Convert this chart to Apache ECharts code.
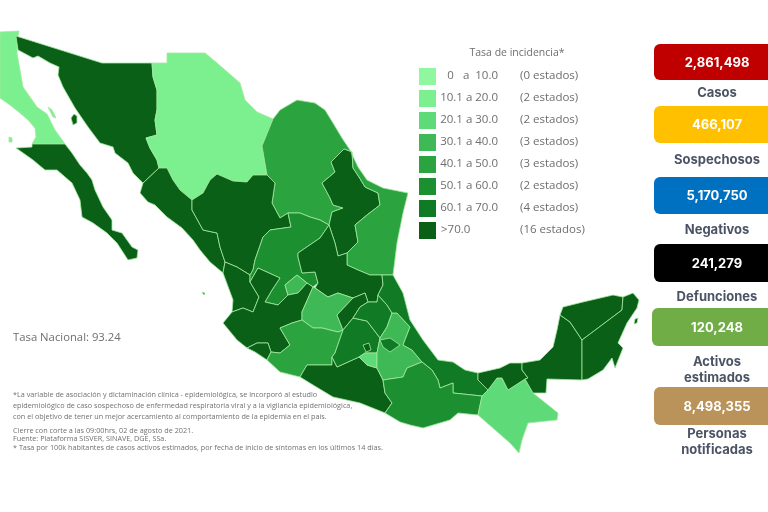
<!DOCTYPE html>
<html>
<head>
<meta charset="utf-8">
<script src="https://cdn.jsdelivr.net/npm/echarts@6/dist/echarts.min.js"></script>
<style>
html, body { margin: 0; padding: 0; background: #fff; }
#main { width: 768px; height: 512px; }
</style>
</head>
<body>
<div id="main"></div>
<script>
// tasa de incidencia por estado (estimada por el color de cada estado)
var stateNames = ['Baja California','Baja California Sur','Sonora','Chihuahua','Coahuila','Nuevo León','Tamaulipas','Sinaloa','Durango','Nayarit','Zacatecas','Aguascalientes','Jalisco','Colima','San Luis Potosí','Guanajuato','Querétaro','Michoacán','Guerrero','México','Ciudad de México','Morelos','Hidalgo','Puebla','Tlaxcala','Veracruz','Oaxaca','Chiapas','Tabasco','Campeche','Yucatán','Quintana Roo'];
var stateRates = [17, 95, 88, 15, 45, 79, 46, 110, 84, 92, 53, 35, 90, 120, 76, 36, 83, 43, 105, 64, 130, 27, 62, 34, 61, 66, 56, 24, 115, 87, 98, 100];

var legendTitle = 'Tasa de incidencia*';
var rangeLabels = ['0   a  10.0', '10.1 a 20.0', '20.1 a 30.0', '30.1 a 40.0', '40.1 a 50.0', '50.1 a 60.0', '60.1 a 70.0', '>70.0'];
var stateCounts = ['(0 estados)', '(2 estados)', '(2 estados)', '(3 estados)', '(3 estados)', '(2 estados)', '(4 estados)', '(16 estados)'];
var binLimits = [0, 10, 20, 30, 40, 50, 60, 70];
var binColors = ['#8ef79f', '#7cf08e', '#5edb78', '#3fb955', '#2ba33f', '#1c8f31', '#117a25', '#0a6017'];

var kpiValues = ['2,861,498', '466,107', '5,170,750', '241,279', '120,248', '8,498,355'];
var kpiLabels = ['Casos', 'Sospechosos', 'Negativos', 'Defunciones', 'Activos\nestimados', 'Personas\nnotificadas'];
var kpiColors = ['#c00000', '#ffc000', '#0070c0', '#000000', '#70ad47', '#b99359'];

var nationalRate = 'Tasa Nacional: 93.24';
var footnotes = [
  '*La variable de asociación y dictaminación clínica - epidemiológica, se incorporó al estudio',
  'epidemiológico de caso sospechoso de enfermedad respiratoria viral y a la vigilancia epidemiológica,',
  'con el objetivo de tener un mejor acercamiento al comportamiento de la epidemia en el país.',
  'Cierre con corte a las 09:00hrs, 02 de agosto de 2021.',
  'Fuente: Plataforma SISVER, SINAVE, DGE, SSa.',
  '* Tasa por 100k habitantes de casos activos estimados, por fecha de inicio de síntomas en los últimos 14 días.'
];

// contornos de los estados, un texto por poligono
var stateShapes = {
  'Baja California': ['0,32 19,31 17,42 17,53 20,70 23,87 30,97 37,107 47,114 50,120 55,130 60,137 65,144 32,144 36,137 35,128 28,120 20,113 10,105 0,98', '48,107 52,110 56,118 53,117', '9,137 12,138 12,142 9,142'],
  'Baja California Sur': ['32,144 65,144 72,153 80,165 87,173 92,180 95,190 103,207 112,220 112,230 122,233 132,247 138,250 137,258 128,260 117,243 107,233 93,223 82,217 80,200 72,183 57,170 45,170 33,160 16,148 32,147'],
  'Sonora': ['16,36 102,63 152,63 153,77 157,90 157,110 155,120 157,135 146,138 150,148 157,160 159,168 143,183 133,173 128,163 115,153 113,147 100,143 88,127 75,108 63,87 58,75 59,67 50,63 38,56 33,58 18,50', '71,118 74,114 77,116 77,123 73,125'],
  'Chihuahua': ['152,63 167,63 167,53 205,53 217,63 240,83 245,100 257,112 273,119 262,146 267,175 253,175 247,182 233,181 217,174 210,180 203,193 192,200 180,190 173,180 167,168 159,168 157,160 150,148 146,138 157,135 155,120 157,110 157,90 153,77'],
  'Coahuila': ['273,119 280,110 297,100 315,103 325,110 333,123 342,138 350,150 352,152 344,149 338,155 331,162 335,172 322,183 330,198 333,205 343,208 332,212 329,225 320,220 310,217 300,213 288,213 280,218 272,203 275,183 267,175 262,146'],
  'Nuevo León': ['344,149 352,152 353,168 359,177 365,187 378,193 380,205 367,215 355,225 358,242 347,253 338,256 335,243 329,225 332,212 343,208 333,205 330,198 322,183 335,172 331,162 338,155'],
  'Tamaulipas': ['350,150 358,167 367,180 383,188 408,193 403,213 397,243 393,275 382,275 370,275 358,270 347,265 347,253 358,242 355,225 367,215 380,205 378,193 365,187 359,177 353,168 352,152'],
  'Sinaloa': ['143,183 159,168 167,168 173,180 180,190 192,200 192,210 203,230 217,233 220,247 225,262 223,273 210,262 200,250 193,240 182,228 167,217 155,205 148,202 140,193'],
  'Durango': ['192,200 203,193 210,180 217,174 233,181 247,182 253,175 267,175 275,183 272,203 280,218 288,213 291,227 270,230 263,237 255,260 253,270 250,275 237,267 225,262 220,247 217,233 203,230 192,210'],
  'Nayarit': ['225,262 237,267 250,275 250,282 259,297 253,312 243,308 232,312 233,300 223,273', '202,292 205,293 204,295'],
  'Zacatecas': ['288,213 300,213 310,217 320,220 329,225 320,238 298,253 298,257 302,273 315,272 318,283 313,287 307,283 297,275 285,285 288,295 278,305 265,302 272,290 280,278 258,268 250,282 250,275 253,270 255,260 263,237 270,230 291,227'],
  'Aguascalientes': ['285,285 297,275 307,283 298,293 288,295'],
  'Jalisco': ['232,312 243,308 253,312 259,297 250,282 258,268 280,278 272,290 265,302 278,305 288,295 298,293 307,283 313,287 302,312 302,320 292,323 280,328 290,345 280,353 271,352 268,343 257,343 247,348 237,340 223,323'],
  'Colima': ['247,348 257,343 268,343 271,352 267,360 255,352'],
  'San Luis Potosí': ['329,225 335,243 338,256 347,253 347,265 358,270 370,275 382,275 383,285 378,295 377,302 368,302 365,293 353,298 338,293 328,297 315,288 318,283 315,272 302,273 298,257 298,253 320,238'],
  'Guanajuato': ['313,287 315,288 328,297 338,293 353,298 337,315 343,330 338,332 322,328 313,328 302,320 302,312'],
  'Querétaro': ['353,298 365,293 368,302 360,307 353,318 343,330 337,315'],
  'Michoacán': ['280,328 292,323 302,320 313,328 322,328 338,332 343,330 335,353 332,357 332,365 315,365 307,365 300,377 280,372 267,360 271,352 280,353 290,345'],
  'Guerrero': ['300,377 307,365 315,365 332,365 332,357 337,367 359,357 367,365 377,368 383,380 385,393 392,403 385,413 360,403 333,397 313,385'],
  'México': ['343,330 353,318 367,321 380,338 377,353 365,353 359,357 337,367 332,357 335,353'],
  'Ciudad de México': ['363,345 369,343 371,350 366,352'],
  'Morelos': ['359,357 365,353 377,353 377,368 367,365'],
  'Hidalgo': ['360,307 368,302 377,302 378,295 387,305 392,313 387,327 380,338 367,321 353,318'],
  'Puebla': ['392,313 397,313 410,327 403,345 412,350 422,362 407,368 403,377 383,380 377,368 377,353 380,338 387,327'],
  'Tlaxcala': ['380,340 390,338 400,345 390,352 383,347'],
  'Veracruz': ['382,275 393,275 403,293 410,320 423,340 438,360 453,362 465,370 478,373 478,380 488,390 482,396 453,393 453,383 440,388 438,380 432,370 422,362 412,350 403,345 410,327 397,313 392,313 387,305 378,295 383,285'],
  'Oaxaca': ['383,380 403,377 407,368 422,362 432,370 438,380 440,388 453,383 453,393 482,396 478,415 458,413 450,420 423,428 410,425 400,422 385,413 392,403 385,393'],
  'Chiapas': ['482,396 488,390 497,378 502,378 508,390 525,379 533,393 558,413 557,420 528,423 522,440 519,453 510,443 478,415'],
  'Tabasco': ['478,373 500,368 510,363 522,363 522,370 528,378 525,379 508,390 502,378 497,378 488,390 478,380'],
  'Campeche': ['522,363 540,360 553,347 557,330 560,315 570,322 582,340 582,380 547,379 546,393 533,393 525,379 528,378 522,370'],
  'Yucatán': ['560,315 563,307 583,302 613,295 623,297 622,310 582,340 570,322'],
  'Quintana Roo': ['623,297 633,293 639,300 637,308 627,323 618,343 623,348 615,368 612,358 603,370 588,379 582,380 582,340 622,310', '635,319 638,318 637,323 634,324']
};

function toRing(s) {
  var ring = s.split(' ').map(function (p) { return p.split(',').map(Number); });
  ring.push(ring[0]);
  return ring;
}

var features = stateNames.map(function (name) {
  return {
    type: 'Feature',
    properties: { name: name },
    geometry: {
      type: 'MultiPolygon',
      coordinates: stateShapes[name].map(function (s) { return [toRing(s)]; })
    }
  };
});
echarts.registerMap('mexico', { type: 'FeatureCollection', features: features });

var pieces = binColors.map(function (c, i) {
  return i < binLimits.length - 1
    ? { gt: binLimits[i], lte: binLimits[i + 1], color: c }
    : { gt: binLimits[i], color: c };
});

var grey = '#6e6e6e';
var legendFont = '"Open Sans", sans-serif';
var kpiFont = 'Inter, sans-serif';
var cardTops = [44, 106, 177, 244, 308, 387];
var cardHeights = [36, 37, 37, 38, 38, 38];
var cardLefts = [654, 654, 654, 654, 652, 654];
var labelYs = [93, 160, 230, 297, 370, 442];
var noteYs = [395, 406, 417, 431, 439, 448];

var graphics = [];
graphics.push({ type: 'text', x: 517, y: 53, silent: true, style: { text: legendTitle, fill: grey, font: '10.5px ' + legendFont, textAlign: 'center', textVerticalAlign: 'middle' } });
rangeLabels.forEach(function (t, i) {
  var isLast = i === rangeLabels.length - 1;
  graphics.push({ type: 'text', x: isLast ? 441 : 498, y: 76 + i * 21.9, silent: true, style: { text: t, fill: grey, font: '11.5px ' + legendFont, textAlign: isLast ? 'left' : 'right', textVerticalAlign: 'middle' } });
  graphics.push({ type: 'text', x: 520, y: 76 + i * 21.9, silent: true, style: { text: stateCounts[i], fill: grey, font: '11.5px ' + legendFont, textAlign: 'left', textVerticalAlign: 'middle' } });
});
kpiValues.forEach(function (v, i) {
  graphics.push({ type: 'rect', silent: true, shape: { x: cardLefts[i], y: cardTops[i], width: 130, height: cardHeights[i], r: 6 }, style: { fill: kpiColors[i] } });
  graphics.push({ type: 'text', x: 717, y: cardTops[i] + cardHeights[i] / 2 + 1, silent: true, style: { text: v, fill: '#fff', font: 'bold 13px ' + kpiFont, textAlign: 'center', textVerticalAlign: 'middle' } });
  graphics.push({ type: 'text', x: 717, y: labelYs[i], silent: true, style: { text: kpiLabels[i], fill: '#4b5364', font: 'bold 13px ' + kpiFont, lineHeight: 15.5, textAlign: 'center', textVerticalAlign: 'middle' } });
});
graphics.push({ type: 'text', x: 13, y: 338, silent: true, style: { text: nationalRate, fill: grey, font: '11.3px ' + legendFont, textVerticalAlign: 'middle' } });
footnotes.forEach(function (t, i) {
  graphics.push({ type: 'text', x: 13, y: noteYs[i], silent: true, style: { text: t, fill: '#707070', font: '7.25px ' + legendFont, textVerticalAlign: 'middle' } });
});

var chart = echarts.init(document.getElementById('main'), null, { renderer: 'canvas' });
chart.setOption({
  animation: false,
  backgroundColor: '#fff',
  visualMap: {
    type: 'piecewise',
    pieces: pieces,
    inverse: true,
    showLabel: false,
    selectedMode: false,
    hoverLink: false,
    left: 419,
    top: 68,
    padding: 0,
    itemWidth: 17,
    itemHeight: 17,
    itemGap: 5,
    itemSymbol: 'rect',
    seriesIndex: 0
  },
  graphic: { elements: graphics },
  series: [{
    type: 'map',
    map: 'mexico',
    silent: true,
    roam: false,
    aspectScale: 1,
    left: 0,
    top: 0,
    width: 768,
    height: 512,
    boundingCoords: [[0, 0], [768, 512]],
    projection: {
      project: function (p) { return p; },
      unproject: function (p) { return p; }
    },
    label: { show: false },
    itemStyle: { borderColor: '#a3e8a0', borderWidth: 0.8 },
    data: stateNames.map(function (n, i) { return { name: n, value: stateRates[i] }; })
  }]
});
</script>
</body>
</html>
